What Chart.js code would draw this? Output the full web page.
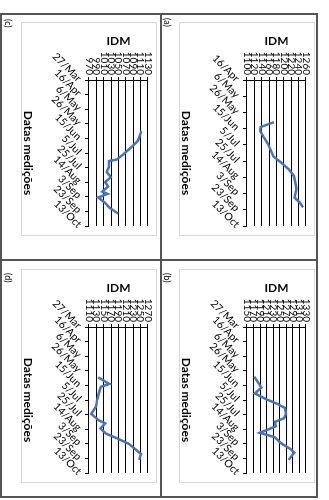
<!DOCTYPE html>
<html>
<head>
<meta charset="utf-8">
<script src="https://cdn.jsdelivr.net/npm/chart.js@4.4.1/dist/chart.umd.min.js"></script>
<style>
html, body { margin: 0; padding: 0; background: #fff; overflow: hidden; }
/* the page is laid out landscape and turned a quarter clockwise */
#page { position: absolute; left: 0; top: 0; width: 500px; height: 329px;
        transform-origin: 0 0; transform: translate(329px, 0) rotate(90deg);
        font-family: Lato, sans-serif; }
.frame { position: absolute; left: 13px; top: 11px; width: 485px; height: 318px;
         border: 2px solid #555; box-sizing: border-box; }
.vl { position: absolute; left: 259px; top: 11px; width: 2px; height: 318px; background: #555; }
.hl { position: absolute; left: 13px; top: 167px; width: 485px; height: 2px; background: #555; }
.cv { position: absolute; }
.bx { position: absolute; border: 1px solid #d9d9d9; box-sizing: border-box; pointer-events: none; }
.lab { position: absolute; font-size: 9px; line-height: 9px; color: #000; }
</style>
</head>
<body>
<div id="page">
  <div class="frame"></div>
  <div class="vl"></div>
  <div class="hl"></div>

  <canvas id="chartA" class="cv" width="214" height="136" style="left:22px;top:14px"></canvas>
  <div class="bx" style="left:22px;top:14px;width:214px;height:136px"></div>
  <div class="lab" style="left:18px;top:157px">(a)</div>

  <canvas id="chartB" class="cv" width="214" height="136" style="left:269px;top:14px"></canvas>
  <div class="bx" style="left:269px;top:14px;width:214px;height:136px"></div>
  <div class="lab" style="left:273px;top:157px">(b)</div>

  <canvas id="chartC" class="cv" width="214" height="136" style="left:22px;top:172px"></canvas>
  <div class="bx" style="left:22px;top:172px;width:214px;height:136px"></div>
  <div class="lab" style="left:19px;top:316px">(c)</div>

  <canvas id="chartD" class="cv" width="214" height="136" style="left:269px;top:172px"></canvas>
  <div class="bx" style="left:269px;top:172px;width:214px;height:136px"></div>
  <div class="lab" style="left:273px;top:316px">(d)</div>
</div>

<script>
// measurement dates (day/month) and IDM values, one pair per panel
var datesA = ['7/6','13/6','18/6','26/6','4/7','14/7','19/7','28/7','4/8','12/8','20/8','28/8','4/9','8/9','14/9','20/9'];
var idmA = [1173,1137,1136,1146,1157,1167,1171,1196,1213,1227,1231,1234,1231,1229,1243,1252];

var datesB = ['3/6','18/6','26/6','4/7','10/7','16/7','24/7','30/7','4/8','10/8','19/8','25/8','2/9','10/9','15/9','25/9'];
var idmB = [1172,1194,1174,1209,1241,1266,1269,1263,1235,1238,1189,1235,1253,1282,1294,1277];

var datesC = ['5/6','18/6','27/6','7/7','14/7','16/7','24/7','31/7','7/8','14/8','20/8','27/8','30/8','4/9','11/9','18/9','26/9'];
var idmC = [1112,1103,1085,1063,1045,1024,1024,1018,1029,1014,1022,1006,1020,995,1013,1026,1049];

var datesD = ['4/6','13/6','17/6','25/6','5/7','14/7','24/7','2/8','6/8','13/8','20/8','26/8','3/9','17/9','25/9'];
var idmD = [1135,1165,1142,1137,1132,1129,1116,1137,1154,1141,1156,1184,1218,1251,1246];

// axis ranges: first/last date tick, first/last IDM tick
var dateRangeA = ['16/4', '13/10'];
var dateRangeOther = ['27/3', '13/10'];
var idmRangeA = [1100, 1260];
var idmRangeB = [1150, 1330];
var idmRangeC = [970, 1130];
var idmRangeD = [1110, 1270];

var monthNames = ['Jan','Feb','Mar','Apr','May','Jun','Jul','Aug','Sep','Oct','Nov','Dec'];
var monthStart = [1,32,60,91,121,152,182,213,244,274,305,335];

function dayOfYear(s) {
  var p = s.split('/');
  return monthStart[+p[1] - 1] + (+p[0]) - 1;
}
function dateLabel(n) {
  n = Math.round(n);
  var m = 11;
  while (monthStart[m] > n) m--;
  return (n - monthStart[m] + 1) + '/' + monthNames[m];
}

Chart.defaults.font.family = 'Lato';
Chart.defaults.color = '#000';

function makeChart(id, dates, values, dateRange, idmRange) {
  var ctx = document.getElementById(id).getContext('2d');
  return new Chart(ctx, {
    type: 'line',
    data: {
      datasets: [{
        data: dates.map(function (d, i) { return { x: dayOfYear(d), y: values[i] }; }),
        borderColor: '#4472c4',
        borderWidth: 2.5,
        pointRadius: 0,
        tension: 0,
        fill: false
      }]
    },
    options: {
      responsive: false,
      animation: false,
      devicePixelRatio: 1,
      layout: { padding: { left: 0, top: 9, right: 10, bottom: 0 } },
      plugins: { legend: { display: false }, tooltip: { enabled: false } },
      scales: {
        x: {
          type: 'linear',
          min: dayOfYear(dateRange[0]),
          max: dayOfYear(dateRange[1]),
          ticks: {
            stepSize: 20, autoSkip: false, minRotation: 45, maxRotation: 45,
            padding: 1, font: { size: 10.5 }, color: '#000',
            callback: function (v) { return dateLabel(v); }
          },
          grid: { drawOnChartArea: false, color: '#000', tickLength: 4 },
          border: { color: '#000' },
          title: { display: true, text: 'Datas medições', color: '#000',
                   font: { size: 12, weight: 'bold' }, padding: { top: 9, bottom: 0 } },
          afterFit: function (s) { s.height = 68; }
        },
        y: {
          min: idmRange[0],
          max: idmRange[1],
          ticks: {
            stepSize: 20, autoSkip: false, padding: 2, font: { size: 10 }, color: '#000',
            callback: function (v) { return String(v); }
          },
          grid: { color: '#000', tickLength: 3 },
          border: { color: '#000' },
          title: { display: true, text: 'IDM', color: '#000',
                   font: { size: 12, weight: 'bold' }, padding: { top: 12, bottom: 0 } },
          afterFit: function (s) { s.width = 58; }
        }
      }
    }
  });
}

window.onload = function () {
  makeChart('chartA', datesA, idmA, dateRangeA, idmRangeA);
  makeChart('chartB', datesB, idmB, dateRangeOther, idmRangeB);
  makeChart('chartC', datesC, idmC, dateRangeOther, idmRangeC);
  makeChart('chartD', datesD, idmD, dateRangeOther, idmRangeD);
};
</script>
</body>
</html>
